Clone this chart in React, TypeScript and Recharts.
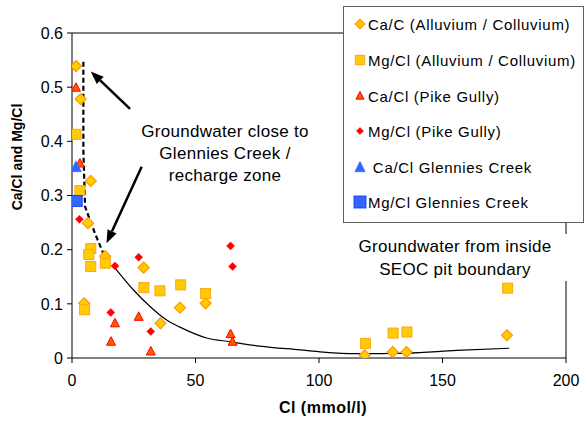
import React from "react"
import { ComposedChart, XAxis, YAxis, Scatter, Line, ReferenceLine } from "recharts"

// Ca/Cl and Mg/Cl ratios vs Cl
const caAlluvium = [
  { x: 1.6, y: 0.539 }, { x: 3.5, y: 0.478 }, { x: 7.6, y: 0.327 }, { x: 6.5, y: 0.249 },
  { x: 13.4, y: 0.188 }, { x: 29, y: 0.167 }, { x: 4.9, y: 0.101 }, { x: 35.8, y: 0.064 },
  { x: 43.7, y: 0.093 }, { x: 54.1, y: 0.101 }, { x: 118.5, y: 0.005 }, { x: 129.8, y: 0.011 },
  { x: 135.4, y: 0.011 }, { x: 176.1, y: 0.042 },
]
const mgAlluvium = [
  { x: 1.6, y: 0.413 }, { x: 3.2, y: 0.309 }, { x: 7.6, y: 0.202 }, { x: 6.8, y: 0.191 },
  { x: 7.6, y: 0.169 }, { x: 13.5, y: 0.175 }, { x: 29.1, y: 0.13 }, { x: 35.6, y: 0.124 },
  { x: 5.1, y: 0.089 }, { x: 44, y: 0.135 }, { x: 54.1, y: 0.119 }, { x: 118.8, y: 0.027 },
  { x: 130, y: 0.046 }, { x: 135.6, y: 0.048 }, { x: 176.4, y: 0.129 },
]
const caPike = [
  { x: 1.6, y: 0.499 }, { x: 3.2, y: 0.359 }, { x: 17.4, y: 0.064 }, { x: 15.8, y: 0.03 },
  { x: 27, y: 0.076 }, { x: 31.9, y: 0.012 }, { x: 64.2, y: 0.044 }, { x: 65, y: 0.03 },
]
const mgPike = [
  { x: 3, y: 0.256 }, { x: 17.4, y: 0.17 }, { x: 27, y: 0.186 }, { x: 15.7, y: 0.084 },
  { x: 31.9, y: 0.049 }, { x: 64.2, y: 0.207 }, { x: 65, y: 0.169 },
]
const caGlennies = [{ x: 1.6, y: 0.353 }]
const mgGlennies = [{ x: 1.9, y: 0.29 }]

// hand drawn trend lines
const rechargeLine = [
  { x: 4.6, y: 0.547 }, { x: 4.6, y: 0.384 }, { x: 5.3, y: 0.279 }, { x: 9.3, y: 0.23 }, { x: 12.7, y: 0.193 },
]
const trendLine = [
  { x: 16.7, y: 0.17 }, { x: 24.8, y: 0.126 }, { x: 31.6, y: 0.095 }, { x: 38.3, y: 0.07 },
  { x: 43.7, y: 0.057 }, { x: 54.5, y: 0.037 }, { x: 64, y: 0.03 }, { x: 76, y: 0.022 },
  { x: 92.3, y: 0.015 }, { x: 101.6, y: 0.011 }, { x: 115, y: 0.008 }, { x: 135.5, y: 0.009 },
  { x: 155.7, y: 0.014 }, { x: 177, y: 0.018 },
]
const arrows = [
  [{ x: 23.5, y: 0.46 }, { x: 7.6, y: 0.529 }],
  [{ x: 28.2, y: 0.353 }, { x: 14.0, y: 0.212 }],
]

const xTicks = [0, 50, 100, 150, 200]
const yTicks = [0, 0.1, 0.2, 0.3, 0.4, 0.5, 0.6]

const legendItems = [
  { kind: "caAll", label: "Ca/C (Alluvium / Colluvium)", k: 0.85 },
  { kind: "mgAll", label: "Mg/Cl (Alluvium / Colluvium)", k: 0.93 },
  { kind: "caPike", label: "Ca/Cl (Pike Gully)", k: 0.9 },
  { kind: "mgPike", label: "Mg/Cl (Pike Gully)", k: 0.88 },
  { kind: "caGlen", label: " Ca/Cl Glennies Creek", k: 0.95 },
  { kind: "mgGlen", label: "Mg/Cl Glennies Creek", k: 1.08 },
]

const FONT = '"Liberation Sans", Arial, Helvetica, sans-serif'

const marker = (kind: string, cx: number, cy: number, k = 1) => {
  switch (kind) {
    case "caAll": {
      const r = 5.5 * k
      return <polygon points={`${cx},${cy - r} ${cx + r},${cy} ${cx},${cy + r} ${cx - r},${cy}`} fill="#FFCC00" stroke="#FF9900" strokeWidth={1.2} />
    }
    case "mgAll": {
      const h = 5 * k
      return <rect x={cx - h} y={cy - h} width={2 * h} height={2 * h} fill="#FFCC00" stroke="#FFA31A" strokeWidth={1} />
    }
    case "caPike": {
      const w = 4.5 * k
      return <polygon points={`${cx},${cy - 5 * k} ${cx + w},${cy + 3.5 * k} ${cx - w},${cy + 3.5 * k}`} fill="#FF5A00" stroke="#FF0000" strokeWidth={1} />
    }
    case "mgPike": {
      const r = 4 * k
      return <polygon points={`${cx},${cy - r} ${cx + r},${cy} ${cx},${cy + r} ${cx - r},${cy}`} fill="#FF0000" stroke="#FF0000" strokeWidth={0.5} />
    }
    case "caGlen": {
      return <polygon points={`${cx},${cy - 6 * k} ${cx + 5.5 * k},${cy + 5 * k} ${cx - 5.5 * k},${cy + 5 * k}`} fill="#3366FF" stroke="#3366FF" strokeWidth={0.5} />
    }
    default: {
      const h = 5.5 * k
      return <rect x={cx - h} y={cy - h} width={2 * h} height={2 * h} fill="#3366FF" stroke="#1A3DFF" strokeWidth={1} />
    }
  }
}

const shapeFor = (kind: string) => (p: any) => <g>{marker(kind, p.cx, p.cy)}</g>

const renderArrow = (p: any) => {
  const { x1, y1, x2, y2 } = p
  const a = Math.atan2(y2 - y1, x2 - x1)
  const len = 13
  const hw = 5
  const bx = x2 - len * Math.cos(a)
  const by = y2 - len * Math.sin(a)
  const px = -Math.sin(a) * hw
  const py = Math.cos(a) * hw
  return (
    <g>
      <line x1={x1} y1={y1} x2={bx} y2={by} stroke="#000" strokeWidth={2.5} />
      <polygon points={`${x2},${y2} ${bx + px},${by + py} ${bx - px},${by - py}`} fill="#000" />
    </g>
  )
}

export default function App() {
  return (
    <div style={{ position: "absolute", left: 0, top: 0, width: 584, height: 423, background: "#fff", fontFamily: FONT }}>
      <ComposedChart width={584} height={423} margin={{ top: 33, right: 18, bottom: 0, left: 0 }}>
        <XAxis
          type="number"
          dataKey="x"
          domain={[0, 200]}
          ticks={xTicks}
          allowDataOverflow
          height={65}
          tickSize={5}
          tickMargin={12}
          axisLine={{ stroke: "#000" }}
          tickLine={{ stroke: "#000" }}
          tick={{ fontSize: 16, fill: "#000" }}
          label={{
            content: () => (
              <text x={323} y={413} textAnchor="middle" fontSize={16} fontWeight="bold" letterSpacing={0.5} fill="#000">
                Cl (mmol/l)
              </text>
            ),
          }}
        />
        <YAxis
          type="number"
          dataKey="y"
          domain={[0, 0.6]}
          ticks={yTicks}
          allowDataOverflow
          width={72}
          tickSize={5}
          tickMargin={4}
          axisLine={{ stroke: "#000" }}
          tickLine={{ stroke: "#000" }}
          tick={{ fontSize: 16, fill: "#000" }}
          label={{
            content: () => (
              <text x={22} y={157} transform="rotate(-90 22 157)" textAnchor="middle" fontSize={14} fontWeight="bold" fill="#000">
                Ca/Cl and Mg/Cl
              </text>
            ),
          }}
        />
        <ReferenceLine y={0.6} stroke="#000" />
        <ReferenceLine x={200} stroke="#000" />

        <Scatter data={caAlluvium} dataKey="y" shape={shapeFor("caAll")} isAnimationActive={false} />
        <Scatter data={mgAlluvium} dataKey="y" shape={shapeFor("mgAll")} isAnimationActive={false} />
        <Scatter data={caPike} dataKey="y" shape={shapeFor("caPike")} isAnimationActive={false} />
        <Scatter data={mgPike} dataKey="y" shape={shapeFor("mgPike")} isAnimationActive={false} />
        <Scatter data={caGlennies} dataKey="y" shape={shapeFor("caGlen")} isAnimationActive={false} />
        <Scatter data={mgGlennies} dataKey="y" shape={shapeFor("mgGlen")} isAnimationActive={false} />

        <Line data={rechargeLine} dataKey="y" type="linear" stroke="#000" strokeWidth={2.2} strokeDasharray="5 3" dot={false} activeDot={false} isAnimationActive={false} />
        <Line data={trendLine} dataKey="y" type="monotone" stroke="#000" strokeWidth={1.2} dot={false} activeDot={false} isAnimationActive={false} />

        {arrows.map((seg, i) => (
          <ReferenceLine key={i} segment={seg} shape={renderArrow} />
        ))}
      </ComposedChart>

      {/* free text annotations */}
      <svg width={584} height={423} style={{ position: "absolute", left: 0, top: 0, pointerEvents: "none" }}>
        <g fontSize={17} fill="#000" textAnchor="middle" letterSpacing={0.3}>
          <text x={225} y={137}>Groundwater close to</text>
          <text x={225} y={159}>Glennies Creek /</text>
          <text x={225} y={181}>recharge zone</text>
        </g>
        <rect x={345} y={234} width={228} height={47} fill="#fff" />
        <g fontSize={17} fill="#000" textAnchor="middle" letterSpacing={0.3}>
          <text x={455} y={252}>Groundwater from inside</text>
          <text x={455} y={275}>SEOC pit boundary</text>
        </g>
      </svg>

      {/* legend box */}
      <div
        style={{
          position: "absolute",
          left: 343,
          top: 6,
          width: 241,
          height: 217,
          boxSizing: "border-box",
          border: "1px solid #606060",
          background: "#fff",
        }}
      >
        <svg width={239} height={215} style={{ display: "block" }}>
          {legendItems.map((it, i) => {
            const cy = [17, 53, 89, 124, 160, 195][i]
            return (
              <g key={it.label}>
                {marker(it.kind, 16, cy, it.k)}
                <text x={24} y={cy + 5.5} fontSize={15} letterSpacing={0.7} fill="#000" style={{ whiteSpace: "pre" }}>
                  {it.label}
                </text>
              </g>
            )
          })}
        </svg>
      </div>
    </div>
  )
}
